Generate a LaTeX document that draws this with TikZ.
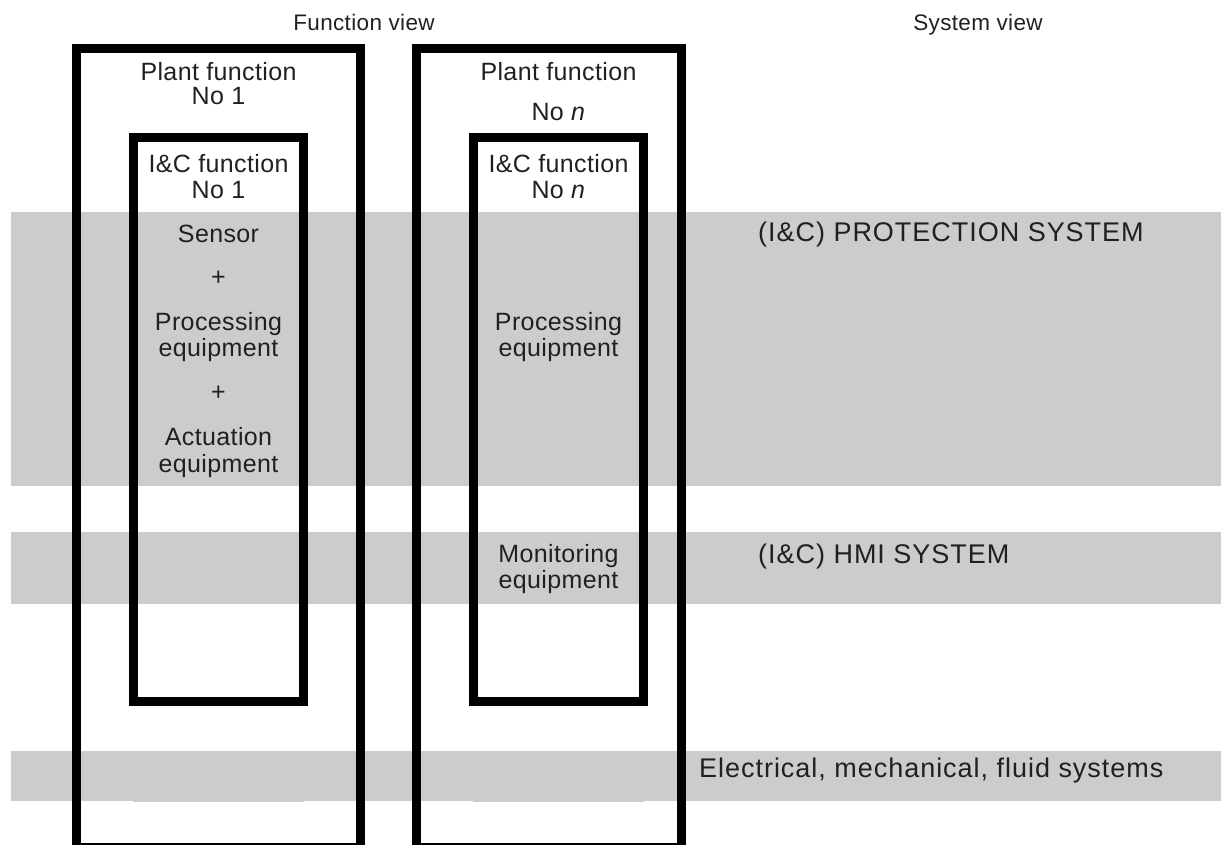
\documentclass[tikz,border=0pt]{standalone}
\usepackage{fontspec}
\setmainfont{Liberation Sans}
\newfontfamily\colfont[LetterSpace=1.5]{Liberation Sans}
\newfontfamily\hdrfont[LetterSpace=1.5]{Liberation Sans}
\newfontfamily\sysfont[LetterSpace=3.6]{Liberation Sans}
\definecolor{bandgray}{HTML}{CCCCCC}
\definecolor{txt}{HTML}{231F20}
\begin{document}
\begin{tikzpicture}[x=1pt,y=-1pt,
  band/.style={fill=bandgray, draw=none},
  frame/.style={draw=black, line width=9pt},
  coltext/.style={anchor=base, inner sep=0pt, text=txt, font=\colfont\fontsize{25}{29}\selectfont},
  hdrtext/.style={anchor=base, inner sep=0pt, text=txt, font=\hdrfont\fontsize{22.5}{26}\selectfont},
  systext/.style={anchor=base west, inner sep=0pt, text=txt, font=\sysfont\fontsize{27}{31}\selectfont}
]
\useasboundingbox (0,0) rectangle (1221,845);
\clip (0,0) rectangle (1221,845);
% bands
\fill[band] (11,212) rectangle (1221,486);
\fill[band] (11,532) rectangle (1221,604);
\fill[band] (11,751) rectangle (1221,801);
\fill[band] (133,801) rectangle (304,802);
\fill[band] (473,801) rectangle (644,802);
% frames
\draw[frame] (76.5,48.5) rectangle (360.5,847);
\draw[frame] (416.5,48.5) rectangle (681.5,847);
\draw[frame] (133.5,137.5) rectangle (303.5,701.5);
\draw[frame] (473.5,137.5) rectangle (643.5,701.5);
% headers
\node[hdrtext] (fv) at (364,31) {Function view};
\node[hdrtext] (sv) at (978,31) {System view};
% left column
\node[coltext] (pf1a) at (218.5,81) {Plant function};
\node[coltext] (pf1b) at (218.5,105) {No 1};
\node[coltext] (ic1a) at (218.5,173) {I\&C function};
\node[coltext] (ic1b) at (218.5,199) {No 1};
\node[coltext] (sen) at (218.5,243) {Sensor};
\node[coltext] (plus1) at (218.5,285.5) {+};
\node[coltext] (proc1a) at (218.5,330) {Processing};
\node[coltext] (proc1b) at (218.5,356) {equipment};
\node[coltext] (plus2) at (218.5,400.5) {+};
\node[coltext] (act1a) at (218.5,445) {Actuation};
\node[coltext] (act1b) at (218.5,472) {equipment};
% right column
\node[coltext] (pfna) at (558.5,81) {Plant function};
\node[coltext] (pfnb) at (558.5,121) {No \textit{n}};
\node[coltext] (icna) at (558.5,173) {I\&C function};
\node[coltext] (icnb) at (558.5,199) {No \textit{n}};
\node[coltext] (procna) at (558.5,330) {Processing};
\node[coltext] (procnb) at (558.5,356) {equipment};
\node[coltext] (mona) at (558.5,562) {Monitoring};
\node[coltext] (monb) at (558.5,588) {equipment};
% system labels
\node[systext] (prot) at (758,242) {(I\&C) PROTECTION SYSTEM};
\node[systext] (hmi) at (758,563) {(I\&C) HMI SYSTEM};
\node[systext] (elec) at (699,777) {Electrical, mechanical, fluid systems};
\end{tikzpicture}
\end{document}
